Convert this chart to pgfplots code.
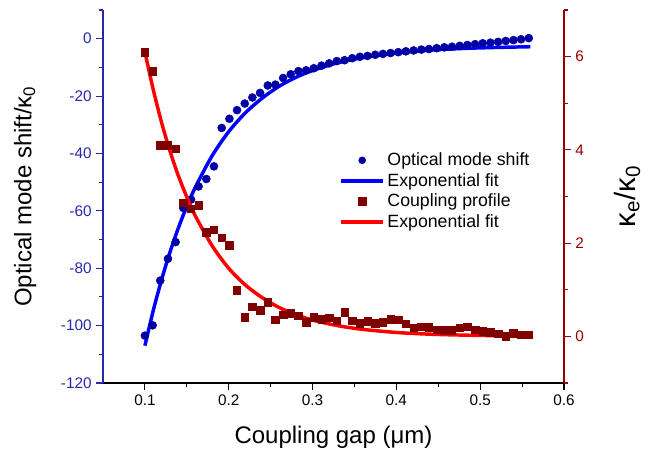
\documentclass[border=0pt]{standalone}
\usepackage{fontspec}
\setmainfont{Liberation Sans}
\usepackage{pgfplots}
\usepackage{pgfplotstable}
\pgfplotsset{compat=1.18}
\definecolor{leftax}{RGB}{40,40,170}
\definecolor{rightax}{RGB}{150,0,0}
\definecolor{bluedot}{RGB}{0,0,165}
\definecolor{fitblue}{RGB}{0,0,255}
\definecolor{redsq}{RGB}{128,0,0}
\definecolor{fitred}{RGB}{255,0,0}

\pgfplotstableread{
x y
0.1000 -103.5
0.1092 -99.9
0.1183 -84.3
0.1275 -76.7
0.1366 -70.9
0.1458 -59.0
0.1550 -56.1
0.1641 -51.5
0.1733 -48.9
0.1824 -44.5
0.1916 -31.1
0.2008 -27.9
0.2099 -24.9
0.2191 -22.6
0.2282 -20.5
0.2374 -18.9
0.2466 -16.3
0.2557 -16.0
0.2649 -13.7
0.2740 -12.4
0.2832 -11.3
0.2924 -11.0
0.3015 -10.3
0.3107 -9.4
0.3198 -8.6
0.3290 -7.8
0.3382 -7.5
0.3473 -6.8
0.3565 -6.3
0.3656 -6.0
0.3748 -5.6
0.3840 -5.3
0.3931 -5.0
0.4023 -4.7
0.4114 -4.4
0.4206 -4.1
0.4298 -3.8
0.4389 -3.6
0.4481 -3.3
0.4572 -3.0
0.4664 -2.8
0.4756 -2.5
0.4847 -2.2
0.4939 -1.9
0.5030 -1.6
0.5122 -1.4
0.5214 -1.1
0.5305 -0.8
0.5397 -0.5
0.5488 -0.2
0.5580 0.2
}\shifttable

\pgfplotstableread{
x y
0.10 -107.0
0.11 -94.7
0.12 -83.9
0.13 -74.3
0.14 -65.9
0.15 -58.4
0.16 -51.9
0.18 -40.9
0.20 -32.4
0.22 -25.8
0.24 -20.7
0.26 -16.6
0.28 -13.5
0.30 -11.1
0.33 -8.4
0.36 -6.6
0.40 -5.0
0.44 -4.0
0.48 -3.4
0.52 -3.05
0.56 -2.8
}\shiftfit

\pgfplotstableread{
x y
0.1000 6.09
0.1092 5.69
0.1183 4.10
0.1275 4.10
0.1366 4.02
0.1458 2.86
0.1550 2.74
0.1641 2.81
0.1733 2.23
0.1824 2.29
0.1916 2.12
0.2008 1.95
0.2099 0.99
0.2191 0.41
0.2282 0.64
0.2374 0.56
0.2466 0.73
0.2557 0.36
0.2649 0.46
0.2740 0.50
0.2832 0.44
0.2924 0.30
0.3015 0.41
0.3107 0.37
0.3198 0.40
0.3290 0.33
0.3382 0.52
0.3473 0.34
0.3565 0.28
0.3656 0.32
0.3748 0.28
0.3840 0.30
0.3931 0.37
0.4023 0.36
0.4114 0.27
0.4206 0.19
0.4298 0.21
0.4389 0.20
0.4481 0.14
0.4572 0.13
0.4664 0.13
0.4756 0.18
0.4847 0.21
0.4939 0.14
0.5030 0.11
0.5122 0.09
0.5214 0.06
0.5305 0.00
0.5397 0.07
0.5488 0.03
0.5580 0.04
}\coupltable

\pgfplotstableread{
x y
0.10 6.10
0.11 5.29
0.12 4.58
0.13 3.97
0.14 3.44
0.15 2.99
0.16 2.59
0.18 1.95
0.20 1.46
0.22 1.10
0.24 0.83
0.26 0.62
0.28 0.47
0.30 0.35
0.33 0.23
0.36 0.15
0.40 0.084
0.44 0.047
0.48 0.027
0.52 0.015
0.56 0.0085
}\couplfit

\begin{document}
\begin{tikzpicture}
\useasboundingbox (-77.25pt,-51pt) rectangle (413.25pt,287.25pt);
\begin{axis}[
  scale only axis, width=345.75pt, height=279.75pt,
  xmin=0.05, xmax=0.6, ymin=-120, ymax=10,
  axis x line*=bottom, axis y line*=left,
  xtick={0.1,0.2,0.3,0.4,0.5,0.6},
  minor xtick={0.15,0.25,0.35,0.45,0.55},
  ytick={-120,-100,-80,-60,-40,-20,0},
  minor ytick={-110,-90,-70,-50,-30,-10,10},
  tick align=outside, major tick length=5pt, minor tick length=3pt,
  x axis line style={black, line width=0.8pt},
  y axis line style={leftax, line width=0.8pt},
  xtick style={black, line width=0.8pt},
  ytick style={leftax, line width=0.8pt},
  /pgf/number format/assume math mode=true,
  xticklabel style={black, font=\fontsize{11.5}{13}\selectfont, /pgf/number format/fixed, /pgf/number format/precision=2},
  yticklabel style={leftax, font=\fontsize{11.5}{13}\selectfont},
  xlabel={Coupling gap (μm)},
  ylabel={Optical mode shift/κ\textsubscript{0}},
  label style={font=\fontsize{18}{21}\selectfont, black},
  xlabel style={at={(axis description cs:0.5,-0.145)}, anchor=center},
  ylabel style={at={(axis description cs:-0.169,0.5)}, anchor=center},
]
\addplot[only marks, mark=*, mark size=3pt, bluedot, mark options={draw=bluedot, fill=bluedot}] table[x=x,y=y] {\shifttable};
\addplot[fitblue, line width=2.6pt, smooth, no marks] table[x=x,y=y] {\shiftfit};
\end{axis}
\begin{axis}[
  scale only axis, width=345.75pt, height=279.75pt,
  xmin=0.05, xmax=0.6, ymin=-1, ymax=7,
  axis y line*=right, axis x line=none,
  ytick={0,2,4,6}, minor ytick={-1,1,3,5,7},
  tick align=outside, major tick length=5pt, minor tick length=3pt,
  y axis line style={rightax, line width=0.8pt},
  ytick style={rightax, line width=0.8pt},
  /pgf/number format/assume math mode=true,
  yticklabel style={rightax, font=\fontsize{11.5}{13}\selectfont},
  ylabel={κ\textsubscript{e}/κ\textsubscript{0}},
  ylabel style={font=\fontsize{22}{24}\selectfont, black, at={(axis description cs:1.137,0.5)}, anchor=center},
  legend image code/.code={\draw[mark repeat=2,mark phase=2,#1] plot coordinates {(0cm,0cm) (0.55cm,0cm) (1.1cm,0cm)};},
  legend cell align=left,
  legend style={at={(axis description cs:0.504,0.632)}, anchor=north west, draw=none, fill=none,
    font=\fontsize{13.3}{15.5}\selectfont, row sep=0.3pt},
]
\addlegendimage{only marks, mark=*, mark size=2.6pt, bluedot, mark options={draw=bluedot, fill=bluedot}}
\addlegendentry{Optical mode shift}
\addlegendimage{fitblue, line width=2.6pt, no marks}
\addlegendentry{Exponential fit}
\addplot[only marks, mark=square*, mark size=2.8pt, redsq, mark options={draw=redsq, fill=redsq}] table[x=x,y=y] {\coupltable};
\addlegendentry{Coupling profile}
\addplot[fitred, line width=2.6pt, smooth, no marks] table[x=x,y=y] {\couplfit};
\addlegendentry{Exponential fit}
\end{axis}
\end{tikzpicture}
\end{document}
